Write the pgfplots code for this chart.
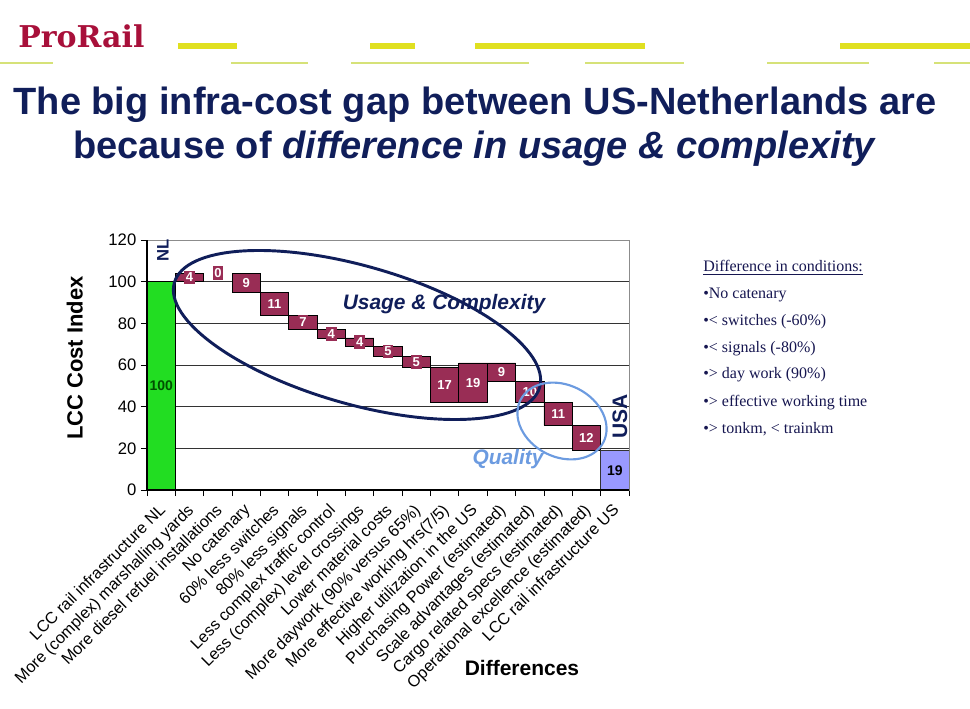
\documentclass[border=0pt]{standalone}
\usepackage{pgfplots}
\pgfplotsset{compat=1.18}
\usepackage{pgfplotstable}
\usepackage{fontspec}
\setmainfont{Liberation Sans}
\newfontfamily\serifx{Liberation Serif}
\newfontfamily\logofont{DejaVu Serif}
\definecolor{navy}{RGB}{16,30,90}
\definecolor{plum}{RGB}{153,45,85}
\definecolor{nlgreen}{RGB}{34,221,34}
\definecolor{usblue}{RGB}{153,153,255}
\definecolor{qblue}{RGB}{108,155,224}
\definecolor{logored}{RGB}{168,16,58}
\definecolor{dashy}{RGB}{224,224,32}
\definecolor{dashl}{RGB}{214,226,120}
\definecolor{darkgreen}{RGB}{0,80,0}
\definecolor{textnavy}{RGB}{22,22,80}

\pgfplotstableread{
x base g b r
0 0 100 0 0
1 100 0 0 4
2 104 0 0 0
3 95 0 0 9
4 84 0 0 11
5 77 0 0 7
6 73 0 0 4
7 69 0 0 4
8 64 0 0 5
9 59 0 0 5
10 42 0 0 17
11 42 0 0 19
12 52 0 0 9
13 42 0 0 10
14 31 0 0 11
15 19 0 0 12
16 0 0 19 0
}\bars

\pgfplotstableread{
x y lbl
1 102 4
2 104 0
3 99.5 9
4 89.5 11
5 80.5 7
6 75 4
7 71 4
8 66.5 5
9 61.5 5
10 50.5 17
11 51.5 19
12 56.5 9
13 47 10
14 36.5 11
15 25 12
}\labs

\pgfplotstableread{
x y lbl
0 50 100
}\labnl

\pgfplotstableread{
x y lbl
16 9.5 19
}\labus

\begin{document}
\begin{tikzpicture}
\useasboundingbox (0,0) rectangle (727.5pt,-531.75pt);

\begin{axis}[
  at={(110.25pt,-367.5pt)}, anchor=south west,
  width=361.5pt, height=187.5pt, scale only axis,
  ybar stacked, bar width=1,
  enlargelimits=false,
  xmin=-0.5, xmax=16.5, ymin=0, ymax=120,
  ytick={0,20,...,100},
  extra y ticks={120}, extra y tick style={grid=none},
  ymajorgrids, grid style={black!80, line width=0.6pt},
  xtick={-0.5,0.5,...,16.5}, xticklabels={},
  extra x ticks={0,1,...,16},
  extra x tick labels={LCC rail infrastructure NL,More (complex) marshalling yards,More diesel refuel installations,No catenary,60\% less switches,80\% less signals,Less complex traffic control,Less (complex) level crossings,Lower material costs,More daywork (90\% versus 65\%),More effective working hrs(7/5),Higher utilization in the US,Purchasing Power (estimated),Scale advantages (estimated),Cargo related specs (estimated),Operational excellence (estimated),LCC rail infrastructure US},
  extra x tick style={major tick length=0pt, tick label style={xshift=-2.5pt, yshift=-8pt, rotate=45, anchor=north east, font=\fontsize{12.2}{14}\selectfont, inner sep=1pt}},
  tick align=outside, tick pos=left, major tick length=4.5pt,
  tick style={black, line width=0.6pt},
  axis line style={black!45, line width=0.6pt},
  /pgf/number format/assume math mode=true,
  yticklabel style={font=\fontsize{12.5}{14}\selectfont},
  ylabel={\bfseries LCC Cost Index},
  ylabel style={at={(axis description cs:-0.15,0.528)}, anchor=center, font=\fontsize{16.5}{18}\selectfont},
  xlabel={\bfseries Differences},
  xlabel style={at={(axis description cs:0.778,-0.712)}, anchor=center, font=\fontsize{15.75}{18}\selectfont},
]
\addplot[draw=none, fill=none] table[x=x,y=base]{\bars};
\addplot[fill=nlgreen, draw=black, line width=0.6pt] table[x=x,y=g]{\bars};
\addplot[fill=usblue, draw=black!80, line width=0.6pt] table[x=x,y=b]{\bars};
\addplot[fill=plum, draw=black, line width=0.6pt] table[x=x,y=r]{\bars};
\end{axis}

\begin{axis}[
  at={(110.25pt,-367.5pt)}, anchor=south west,
  width=361.5pt, height=187.5pt, scale only axis,
  enlargelimits=false, clip=false,
  xmin=-0.5, xmax=16.5, ymin=0, ymax=120,
  axis x line*=bottom, axis y line*=left,
  xtick=\empty, ytick=\empty,
  axis line style={black, line width=0.8pt},
]
\addplot[only marks, mark=none, point meta=explicit symbolic,
  nodes near coords, nodes near coords align={center},
  nodes near coords style={anchor=center, fill=plum, text=white, font=\bfseries\fontsize{9.75}{10}\selectfont, inner xsep=1.2pt, inner ysep=1.8pt}]
  table[x=x, y=y, meta=lbl]{\labs};
\addplot[only marks, mark=none, point meta=explicit symbolic,
  nodes near coords, nodes near coords align={center},
  nodes near coords style={anchor=center, text=darkgreen, font=\bfseries\fontsize{10.5}{12}\selectfont}]
  table[x=x, y=y, meta=lbl]{\labnl};
\addplot[only marks, mark=none, point meta=explicit symbolic,
  nodes near coords, nodes near coords align={center},
  nodes near coords style={anchor=center, text=black, font=\bfseries\fontsize{10.5}{12}\selectfont}]
  table[x=x, y=y, meta=lbl]{\labus};
\end{axis}

\begin{scope}[x=0.75pt,y=-0.75pt]
% header dashes
\fill[dashy] (178,43) rectangle (237,49);
\fill[dashy] (370,43) rectangle (415,49);
\fill[dashy] (475,43) rectangle (645,49);
\fill[dashy] (840,43) rectangle (970,49);
\fill[dashl] (0,62) rectangle (53,64.5);
\fill[dashl] (231,62) rectangle (308,64.5);
\fill[dashl] (351,62) rectangle (529,64.5);
\fill[dashl] (585,62) rectangle (684,64.5);
\fill[dashl] (767,62) rectangle (869,64.5);
\fill[dashl] (934,62) rectangle (970,64.5);
\node[anchor=base west, inner sep=0, text=logored,
  font=\logofont\bfseries\fontsize{22.5}{24}\selectfont] at (18,48) {ProRail};
% title
\node[anchor=base, inner sep=0, text=navy,
  font=\bfseries\fontsize{28.5}{32}\selectfont] at (475,115)
  {The big infra-cost gap between US-Netherlands are};
\node[anchor=base, inner sep=0, text=navy,
  font=\bfseries\fontsize{28.5}{32}\selectfont] at (475,159)
  {because of \textit{difference in usage \& complexity}};
% ellipses
\draw[navy, line width=2.2pt, rotate around={-16:(357,335)}] (357,335) ellipse [x radius=142.5pt, y radius=51.75pt];
\draw[qblue, line width=1.6pt, rotate around={-27:(562,421)}] (562,421) ellipse [x radius=34.9pt, y radius=27pt];
% annotations
\node[text=navy, font=\bfseries\itshape\fontsize{15.7}{18}\selectfont] at (444,304) {Usage \& Complexity};
\node[text=qblue, font=\bfseries\itshape\fontsize{15.7}{18}\selectfont] at (508,459) {Quality};
\node[rotate=90, text=navy, font=\bfseries\fontsize{12.5}{14}\selectfont] at (163,250) {NL};
\node[rotate=90, text=navy, font=\bfseries\fontsize{15.75}{18}\selectfont] at (620,416) {USA};
% right-hand notes
\begin{scope}[every node/.style={anchor=base west, inner sep=0, text=textnavy, font=\serifx\fontsize{12}{14}\selectfont}]
\node at (703,272) {\underline{Difference in conditions:}};
\node at (703,298) {•No catenary};
\node at (703,325) {•< switches (-60\%)};
\node at (703,352) {•< signals (-80\%)};
\node at (703,378) {•> day work (90\%)};
\node at (703,406) {•> effective working time};
\node at (703,433) {•> tonkm, < trainkm};
\end{scope}
\end{scope}
\end{tikzpicture}
\end{document}
